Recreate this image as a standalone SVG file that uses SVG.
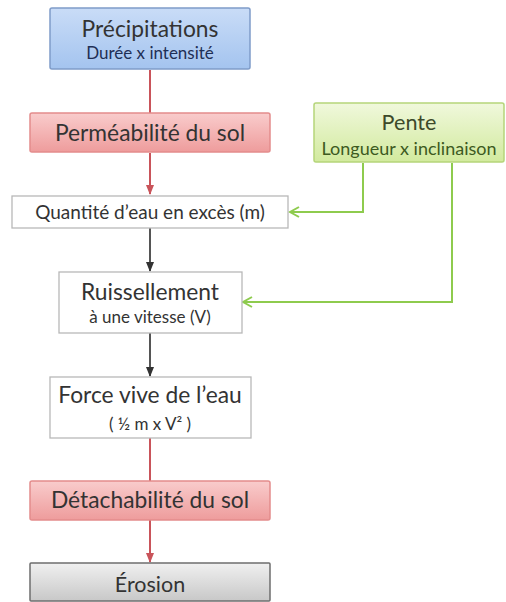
<svg xmlns="http://www.w3.org/2000/svg" width="506" height="602" viewBox="0 0 506 602">
<defs>
<linearGradient id="gBlue" x1="0" y1="0" x2="0" y2="1"><stop offset="0" stop-color="#c9dcf7"/><stop offset="1" stop-color="#a4c4ef"/></linearGradient>
<linearGradient id="gRed" x1="0" y1="0" x2="0" y2="1"><stop offset="0" stop-color="#f9cccc"/><stop offset="1" stop-color="#ee9c9c"/></linearGradient>
<linearGradient id="gGreen" x1="0" y1="0" x2="0" y2="1"><stop offset="0" stop-color="#f0f8dc"/><stop offset="1" stop-color="#d2ea9e"/></linearGradient>
<linearGradient id="gGray" x1="0" y1="0" x2="0" y2="1"><stop offset="0" stop-color="#f0f0f0"/><stop offset="1" stop-color="#c8c8c8"/></linearGradient>
<marker id="aRed" markerWidth="10" markerHeight="8" refX="9" refY="4" orient="auto" markerUnits="userSpaceOnUse"><path d="M0,0 L10,4 L0,8 Z" fill="#c9545a"/></marker>
<marker id="aGray" markerWidth="10" markerHeight="8" refX="9" refY="4" orient="auto" markerUnits="userSpaceOnUse"><path d="M0,0 L10,4 L0,8 Z" fill="#333"/></marker>
<marker id="aGreen" markerWidth="13" markerHeight="12" refX="11" refY="6" orient="auto" markerUnits="userSpaceOnUse"><path d="M2,1 L11,6 L2,11" fill="none" stroke="#8ecb4e" stroke-width="2"/></marker>
</defs>
<style>
text{font-family:Lato,"Open Sans","Liberation Sans",sans-serif;text-anchor:middle;fill:#333}
.big{font-size:22.8px}
.mid{font-size:19px}
.sm{font-size:17px}
.blue{fill:url(#gBlue);stroke:#7f9cc9;stroke-width:1.5}
.red{fill:url(#gRed);stroke:#e38c8c;stroke-width:1.5}
.green{fill:url(#gGreen);stroke:#b5d57a;stroke-width:1.5}
.gray{fill:url(#gGray);stroke:#6e6e6e;stroke-width:1.5}
.white{fill:#fff;stroke:#b8b8b8;stroke-width:1.3}
.cr{stroke:#c9545a;stroke-width:2;fill:none}
.cg{stroke:#555;stroke-width:2;fill:none}
.cgr{stroke:#8ecb4e;stroke-width:2;fill:none}
</style>
<g id="connectors">
<path class="cr" d="M150,70 V113"/>
<path class="cr" d="M150,153 V194" marker-end="url(#aRed)"/>
<path class="cgr" d="M363,163 V212 H290" marker-end="url(#aGreen)"/>
<path class="cgr" d="M452,163 V302 H243" marker-end="url(#aGreen)"/>
<path class="cg" d="M150,228 V271" marker-end="url(#aGray)"/>
<path class="cg" d="M150,333 V376" marker-end="url(#aGray)"/>
<path class="cr" d="M150,438 V481"/>
<path class="cr" d="M150,520 V562" marker-end="url(#aRed)"/>
</g>
<g id="precipitations">
<rect class="blue" x="50" y="8" width="200" height="61" rx="2"/>
<text class="big" x="150" y="37">Précipitations</text>
<text class="sm" x="150" y="59" style="fill:#1f2f55">Durée x intensité</text>
</g>
<g id="permeabilite">
<rect class="red" x="30" y="113" width="240" height="39" rx="2"/>
<text class="big" x="150" y="141">Perméabilité du sol</text>
</g>
<g id="pente">
<rect class="green" x="314" y="103" width="190" height="59" rx="2"/>
<text x="409" y="130" style="fill:#3d4a2a;font-size:21.6px">Pente</text>
<text x="409" y="155" style="fill:#3d5a1f;font-size:18px">Longueur x inclinaison</text>
</g>
<g id="quantite">
<rect class="white" x="12" y="196" width="276" height="32"/>
<text class="mid" x="150" y="219">Quantité d’eau en excès (m)</text>
</g>
<g id="ruissellement">
<rect class="white" x="59" y="272" width="183" height="61"/>
<text class="big" x="150" y="300">Ruissellement</text>
<text class="sm" x="150" y="323">à une vitesse (V)</text>
</g>
<g id="force">
<rect class="white" x="50" y="377" width="201" height="61"/>
<text class="big" x="150" y="403">Force vive de l’eau</text>
<text class="sm" x="150" y="430">( ½ m x V² )</text>
</g>
<g id="detachabilite">
<rect class="red" x="30" y="481" width="240" height="39" rx="2"/>
<text class="big" x="150" y="508">Détachabilité du sol</text>
</g>
<g id="erosion">
<rect class="gray" x="30" y="563" width="240" height="38" rx="1"/>
<text x="150" y="592" style="font-size:21.5px">Érosion</text>
</g>
</svg>
